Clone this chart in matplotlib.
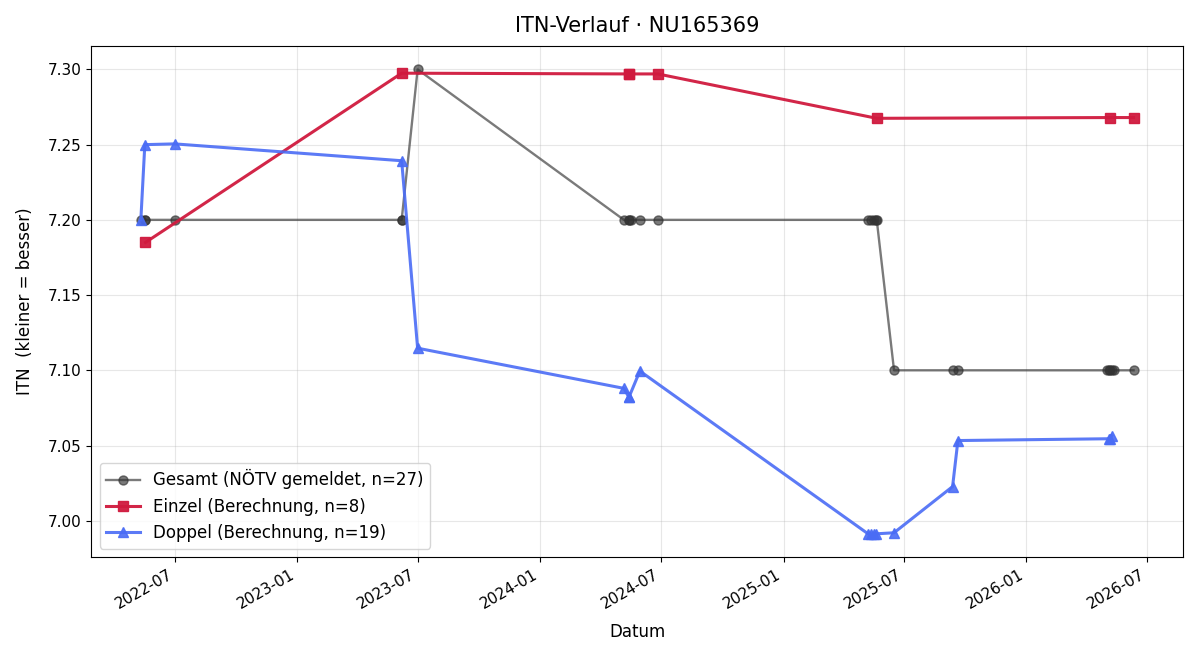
import pandas as pd
import matplotlib
matplotlib.use('Agg')
import matplotlib.pyplot as plt
import matplotlib.dates as mdates

# Gesamt (all matches)
ges_dates = ['2022-05-11', '2022-05-17', '2022-05-18', '2022-07-01', '2023-06-07', '2023-06-07',
             '2023-07-01', '2024-05-06', '2024-05-13', '2024-05-14', '2024-05-16', '2024-05-30',
             '2024-06-26', '2025-05-08', '2025-05-13', '2025-05-17', '2025-05-20', '2025-05-21',
             '2025-06-16', '2025-09-12', '2025-09-20', '2026-05-02', '2026-05-05', '2026-05-06',
             '2026-05-09', '2026-05-12', '2026-06-11']
ges_itn = [7.20, 7.20, 7.20, 7.20, 7.20, 7.20,
           7.30, 7.20, 7.20, 7.20, 7.20, 7.20,
           7.20, 7.20, 7.20, 7.20, 7.20, 7.20,
           7.10, 7.10, 7.10, 7.10, 7.10, 7.10,
           7.10, 7.10, 7.10]

# Einzel
ein_dates = ['2022-05-18', '2023-06-07', '2024-05-13', '2024-05-14', '2024-06-26',
             '2025-05-21', '2026-05-06', '2026-06-11']
ein_itn = [7.185, 7.2975, 7.297, 7.297, 7.297, 7.2675, 7.268, 7.268]

# Doppel
dop_dates = ['2022-05-11', '2022-05-17', '2022-07-01', '2023-06-07', '2023-07-01',
             '2024-05-06', '2024-05-13', '2024-05-14', '2024-05-30',
             '2025-05-08', '2025-05-13', '2025-05-17', '2025-05-20', '2025-06-16',
             '2025-09-12', '2025-09-20', '2026-05-05', '2026-05-06', '2026-05-09']
dop_itn = [7.20, 7.25, 7.2505, 7.2393, 7.1147,
           7.088, 7.0825, 7.0825, 7.0995,
           6.9913, 6.9913, 6.9913, 6.9913, 6.992,
           7.0227, 7.0533, 7.0545, 7.0545, 7.0565]

fig, ax = plt.subplots(figsize=(12, 6.6), dpi=100)

ax.plot(pd.to_datetime(ges_dates), ges_itn, color='#333333', alpha=0.65, marker='o',
        markersize=6.5, linewidth=1.7, label='Gesamt (NÖTV gemeldet, n=27)')
ax.plot(pd.to_datetime(ein_dates), ein_itn, color='#d01a3e', alpha=0.95, marker='s',
        markersize=7, linewidth=2.2, label='Einzel (Berechnung, n=8)')
ax.plot(pd.to_datetime(dop_dates), dop_itn, color='#4a6cf5', alpha=0.9, marker='^',
        markersize=7, linewidth=2.2, label='Doppel (Berechnung, n=19)')

ax.set_title('ITN-Verlauf · NU165369', fontsize=15, pad=10)
ax.set_xlabel('Datum', fontsize=12, labelpad=8)
ax.set_ylabel('ITN  (kleiner = besser)', fontsize=12, labelpad=10)
ax.tick_params(labelsize=11)
ax.grid(True, alpha=0.3)
ax.xaxis.set_major_locator(mdates.MonthLocator(bymonth=[1, 7]))
ax.xaxis.set_major_formatter(mdates.DateFormatter('%Y-%m'))
ax.legend(loc='lower left', fontsize=12)
fig.autofmt_xdate()
fig.subplots_adjust(left=0.076, right=0.986, top=0.930, bottom=0.156)
fig.savefig('out.png')
